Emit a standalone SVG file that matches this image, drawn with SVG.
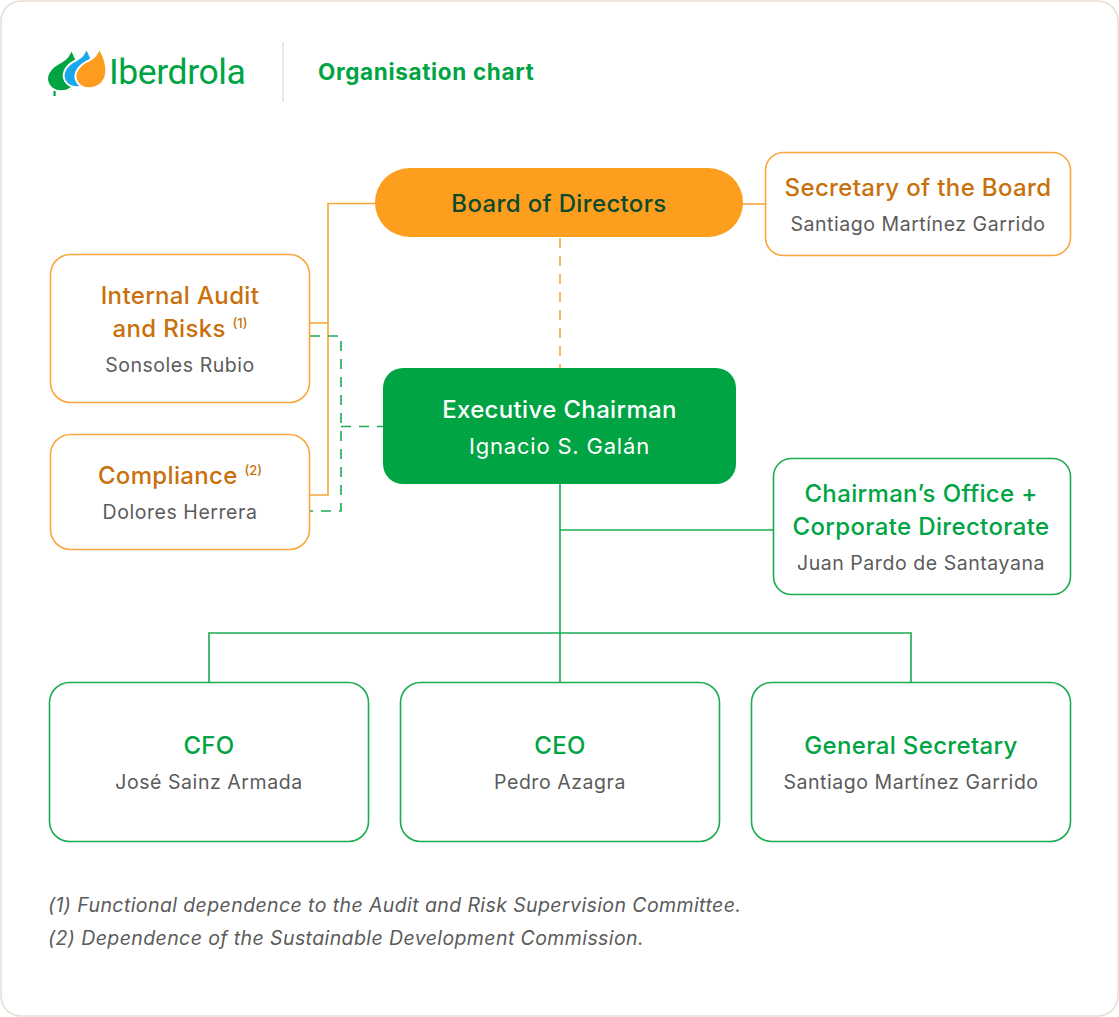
<svg xmlns="http://www.w3.org/2000/svg" width="1119" height="1017" viewBox="0 0 1119 1017">
<defs>
<style>
.t{font-family:Inter,Roboto,"Liberation Sans",sans-serif;text-anchor:middle}
.tt{font-size:24px;font-weight:500;letter-spacing:0.35px}
.nm{font-size:19.5px;fill:#5b5b5b;letter-spacing:0.55px}
.or{fill:#c8700b}
.gr{fill:#00a443}
.sup{font-size:13px;letter-spacing:0}
.bo{fill:#fff;stroke:#f9a63c;stroke-width:1.6}
.bg{fill:#fff;stroke:#1aab4f;stroke-width:1.6}
.lo{fill:none;stroke:#f9a63c;stroke-width:1.6}
.lg{fill:none;stroke:#1aab4f;stroke-width:1.6}
.dash{stroke-dasharray:10 8}
.fn{font-family:Inter,Roboto,"Liberation Sans",sans-serif;font-style:italic;font-size:19.5px;fill:#5b5b5b;letter-spacing:0.4px}
</style>
<path id="leaf" d="M0,0 C8,12 10,26 3,34 C-4,41 -17,41 -22,33 C-27,24 -19,16 -10,12 C-4,9 -1,5 0,0 Z"/>
</defs>
<rect x="1" y="1" width="1117" height="1015" rx="20" fill="#fff" stroke="#e7ddd3" stroke-width="1.5"/>

<g id="header">
<path d="M55,83 L54.5,96" stroke="#00a443" stroke-width="2.2" fill="none"/>
<use href="#leaf" transform="translate(71,49) scale(1.02,1.08)" fill="#00a443" stroke="#fff" stroke-width="2"/>
<use href="#leaf" transform="translate(86,48) scale(0.95,1.0)" fill="#1ba7ee" stroke="#fff" stroke-width="2"/>
<use href="#leaf" transform="translate(99,48) scale(1.0,1.03)" fill="#fd9c1e" stroke="#fff" stroke-width="2"/>
<text x="109" y="84" font-family="Roboto,'Liberation Sans',sans-serif" font-size="35.5" font-weight="400" fill="#00a443" letter-spacing="-0.4">Iberdrola</text>
<line x1="283" y1="42" x2="283" y2="102" stroke="#e7ddd3" stroke-width="1.5"/>
<text x="318" y="80" font-family="Inter,Roboto,'Liberation Sans',sans-serif" font-size="22.5" font-weight="700" fill="#00a443" letter-spacing="0.65">Organisation chart</text>
</g>

<g id="connectors">
<polyline class="lo" points="375,203.5 328,203.5 328,495 310,495"/>
<line class="lo" x1="310" y1="323" x2="328" y2="323"/>
<line class="lo" x1="743" y1="204" x2="765" y2="204"/>
<line class="lo dash" x1="560" y1="238" x2="560" y2="368"/>
<polyline class="lg dash" points="310,336 341,336 341,511 310,511"/>
<line class="lg dash" x1="341" y1="426.5" x2="383" y2="426.5"/>
<line class="lg" x1="560" y1="484" x2="560" y2="682"/>
<line class="lg" x1="560" y1="530" x2="773" y2="530"/>
<polyline class="lg" points="209,682 209,633 911,633 911,682"/>
</g>

<g id="board">
<rect x="375" y="168" width="368" height="69" rx="34.5" fill="#fd9e1f"/>
<text class="t tt" x="559" y="212" fill="#0c4a2c" letter-spacing="0.7">Board of Directors</text>
</g>

<g id="secretary-board">
<rect class="bo" x="765.5" y="152.5" width="305" height="103" rx="18"/>
<text class="t tt or" x="918" y="196">Secretary of the Board</text>
<text class="t nm" x="918" y="231">Santiago Martínez Garrido</text>
</g>

<g id="internal-audit">
<rect class="bo" x="50.5" y="254.5" width="259" height="148" rx="20"/>
<text class="t tt or" x="180" y="304">Internal Audit</text>
<text class="t tt or" x="180" y="337">and Risks <tspan class="sup" dy="-9">(1)</tspan></text>
<text class="t nm" x="180" y="372">Sonsoles Rubio</text>
</g>

<g id="compliance">
<rect class="bo" x="50.5" y="434.5" width="259" height="115" rx="20"/>
<text class="t tt or" x="180" y="484">Compliance <tspan class="sup" dy="-9">(2)</tspan></text>
<text class="t nm" x="180" y="519">Dolores Herrera</text>
</g>

<g id="executive-chairman">
<rect x="383" y="368" width="353" height="116" rx="20" fill="#00a443"/>
<text class="t tt" x="559.5" y="418" fill="#fff" letter-spacing="0.7">Executive Chairman</text>
<text class="t" x="559.5" y="454" font-size="22" fill="#fff" letter-spacing="0.8">Ignacio S. Galán</text>
</g>

<g id="chairmans-office">
<rect class="bg" x="773.5" y="458.5" width="297" height="136" rx="18"/>
<text class="t tt gr" x="921" y="502">Chairman’s Office +</text>
<text class="t tt gr" x="921" y="535">Corporate Directorate</text>
<text class="t nm" x="921" y="570">Juan Pardo de Santayana</text>
</g>

<g id="cfo">
<rect class="bg" x="49.5" y="682.5" width="319" height="159" rx="20"/>
<text class="t tt gr" x="209" y="754">CFO</text>
<text class="t nm" x="209" y="789">José Sainz Armada</text>
</g>

<g id="ceo">
<rect class="bg" x="400.5" y="682.5" width="319" height="159" rx="20"/>
<text class="t tt gr" x="560" y="754">CEO</text>
<text class="t nm" x="560" y="789">Pedro Azagra</text>
</g>

<g id="general-secretary">
<rect class="bg" x="751.5" y="682.5" width="319" height="159" rx="20"/>
<text class="t tt gr" x="911" y="754">General Secretary</text>
<text class="t nm" x="911" y="789">Santiago Martínez Garrido</text>
</g>

<g id="footnotes">
<text class="fn" x="48" y="912">(1) Functional dependence to the Audit and Risk Supervision Committee.</text>
<text class="fn" x="48" y="945">(2) Dependence of the Sustainable Development Commission.</text>
</g>
</svg>
